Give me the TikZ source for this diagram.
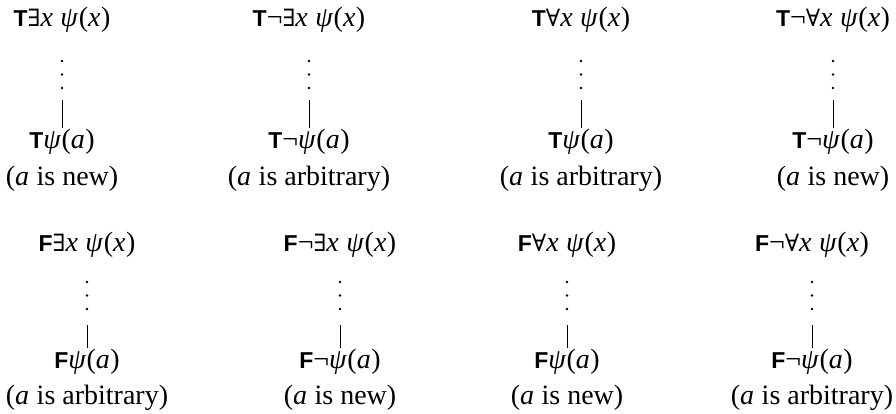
\documentclass[tikz,border=0pt]{standalone}
\usepackage{fontspec}
\setmainfont{Liberation Serif}
\newfontfamily\tvsans{Liberation Sans}
\newfontfamily\qsym{DejaVu Serif}[Scale=0.85]
\newcommand\TV[1]{{\tvsans\bfseries\fontsize{23}{23}\selectfont #1}}
\newcommand\Ex{{\qsym ∃}}
\newcommand\All{{\qsym ∀}}
\newcommand\Ng{¬}
\newcommand\vx{\textit{x}\kern0.5pt}
\newcommand\va{\textit{a}\kern0.5pt}
\newcommand\ps{\textit{ψ}\kern0.5pt}
\tikzset{
  lbl/.style={anchor=base, inner sep=0pt, font=\fontsize{28}{32}\selectfont},
  dotmark/.style={circle, fill=black, inner sep=0pt, minimum size=2.8pt},
  stem/.style={line width=0.8pt}
}
\begin{document}
\begin{tikzpicture}[x=1pt,y=-1pt]
\useasboundingbox (0,0) rectangle (896,413);
% columns: name, x, formula, result, note, row offsets
\foreach \n/\cx/\fa/\fb/\nt/\ya/\yd/\yl/\yr/\yn in {
  a/62/{\TV{T}\Ex\vx{} \ps(\vx)}/{\TV{T}\ps(\va)}/{new}/26/61/100/148/185,
  b/309/{\TV{T}\Ng\Ex\vx{} \ps(\vx)}/{\TV{T}\Ng\ps(\va)}/{arbitrary}/26/61/100/148/185,
  c/581/{\TV{T}\All\vx{} \ps(\vx)}/{\TV{T}\ps(\va)}/{arbitrary}/26/61/100/148/185,
  d/833/{\TV{T}\Ng\All\vx{} \ps(\vx)}/{\TV{T}\Ng\ps(\va)}/{new}/26/61/100/148/185,
  e/87/{\TV{F}\Ex\vx{} \ps(\vx)}/{\TV{F}\ps(\va)}/{arbitrary}/251/282/325/368/404,
  f/340/{\TV{F}\Ng\Ex\vx{} \ps(\vx)}/{\TV{F}\Ng\ps(\va)}/{new}/251/282/325/368/404,
  g/567/{\TV{F}\All\vx{} \ps(\vx)}/{\TV{F}\ps(\va)}/{new}/251/282/325/368/404,
  h/812/{\TV{F}\Ng\All\vx{} \ps(\vx)}/{\TV{F}\Ng\ps(\va)}/{arbitrary}/251/282/325/368/404}
{
  \node[lbl] (\n f) at (\cx,\ya) {\fa};
  \node[dotmark] (\n d1) at (\cx,\yd) {};
  \node[dotmark] (\n d2) at (\cx,\yd+13.5) {};
  \node[dotmark] (\n d3) at (\cx,\yd+27) {};
  \coordinate (\n t) at (\cx,\yl);
  \coordinate (\n b) at (\cx,\yr-20);
  \node[lbl] (\n r) at (\cx,\yr) {\fb};
  \node[lbl] (\n n) at (\cx,\yn) {(\va{} is \nt)};
  \draw[stem] (\n t) -- (\n b);
}
\end{tikzpicture}
\end{document}
